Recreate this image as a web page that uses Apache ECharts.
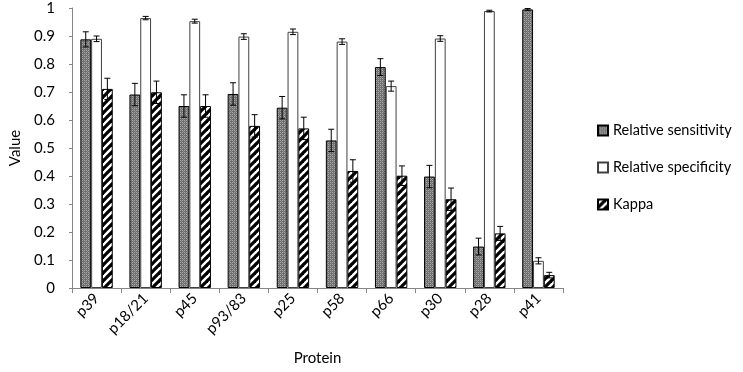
<!DOCTYPE html>
<html><head><meta charset="utf-8">
<script src="https://cdn.jsdelivr.net/npm/echarts@6/dist/echarts.min.js"></script>
<style>html,body{margin:0;padding:0;background:#fff}#c{width:743px;height:372px}</style>
</head><body><div id="c"></div>
<script>
const categories = ['p39','p18/21','p45','p93/83','p25','p58','p66','p30','p28','p41'];
const sensitivity = [0.888,0.691,0.650,0.693,0.644,0.527,0.789,0.398,0.148,0.995];
const sensitivityErr = [0.027,0.040,0.040,0.040,0.040,0.040,0.030,0.040,0.030,0.003];
const specificity = [0.890,0.964,0.953,0.898,0.915,0.880,0.721,0.891,0.989,0.097];
const specificityErr = [0.010,0.006,0.007,0.010,0.010,0.010,0.018,0.010,0.003,0.011];
const kappa = [0.711,0.699,0.650,0.579,0.570,0.418,0.401,0.317,0.195,0.046];
const kappaErr = [0.038,0.040,0.040,0.040,0.040,0.040,0.035,0.040,0.025,0.010];
const seriesNames = ['Relative sensitivity','Relative specificity','Kappa'];

function checkerPattern(){
  const c = document.createElement('canvas'); c.width = 4; c.height = 4;
  const g = c.getContext('2d');
  g.fillStyle = '#6e6e6e'; g.fillRect(0,0,4,4);
  g.fillStyle = '#a8a8a8';
  g.fillRect(0,0,1,1); g.fillRect(2,2,1,1); g.fillRect(2,0,1,1); g.fillRect(0,2,1,1);
  g.fillStyle = '#8c8c8c';
  g.fillRect(1,1,1,1); g.fillRect(3,3,1,1);
  return c;
}
function stripePattern(){
  const s = 8;
  const c = document.createElement('canvas'); c.width = s; c.height = s;
  const g = c.getContext('2d');
  g.fillStyle = '#ffffff'; g.fillRect(0,0,s,s);
  g.strokeStyle = '#000000'; g.lineWidth = 3.2;
  for (let k = -1; k <= 1; k++) {
    g.beginPath(); g.moveTo(k*s - 1, s + 1); g.lineTo(k*s + s + 1, -1); g.stroke();
  }
  return c;
}
const fills = [
  {image: checkerPattern(), repeat: 'repeat'},
  '#ffffff',
  {image: stripePattern(), repeat: 'repeat'}
];
const values = [sensitivity, specificity, kappa];
const errs = [sensitivityErr, specificityErr, kappaErr];
const GAP = 0.34;

const chart = echarts.init(document.getElementById('c'), null, {renderer: 'canvas'});
const font = 'Lato';
const series = [];
values.forEach((vals, si) => {
  series.push({
    name: seriesNames[si], type: 'bar', data: vals,
    barGap: '0%', barCategoryGap: (GAP*100) + '%',
    itemStyle: {color: fills[si], borderColor: si === 1 ? '#404040' : '#000', borderWidth: 1},
    emphasis: {disabled: true}
  });
});
values.forEach((vals, si) => {
  series.push({
    type: 'custom', silent: true, z: 10,
    data: vals.map((v, i) => [i, v, errs[si][i]]),
    renderItem: function(params, api){
      const i = api.value(0), v = api.value(1), e = api.value(2);
      const band = api.size([1, 0])[0];
      const bw = band * (1 - GAP) / 3;
      const center = api.coord([i, v]);
      const x = center[0] + (si - 1) * bw;
      const yTop = api.coord([i, v + e])[1];
      const yBot = api.coord([i, v - e])[1];
      const cap = 3;
      const st = {stroke: '#000', lineWidth: 1};
      return {type: 'group', children: [
        {type: 'line', shape: {x1: x, y1: yTop, x2: x, y2: yBot}, style: st},
        {type: 'line', shape: {x1: x - cap, y1: yTop, x2: x + cap, y2: yTop}, style: st},
        {type: 'line', shape: {x1: x - cap, y1: yBot, x2: x + cap, y2: yBot}, style: st}
      ]};
    }
  });
});

chart.setOption({
  animation: false,
  textStyle: {fontFamily: font},
  grid: {left: 60, right: 180, top: 8, bottom: 84, containLabel: false},
  legend: {
    orient: 'vertical', left: 592, top: 118, itemGap: 22,
    itemWidth: 10, itemHeight: 10,
    data: seriesNames.map(n => ({name: n, icon: 'rect'})),
    textStyle: {fontFamily: font, fontSize: 14.5, color: '#000'},
    selectedMode: false
  },
  xAxis: {
    type: 'category', data: categories,
    name: 'Protein', nameLocation: 'middle', nameGap: 63,
    nameTextStyle: {fontFamily: font, fontSize: 15, color: '#000'},
    axisLine: {lineStyle: {color: '#868686'}},
    axisTick: {show: true, length: 5, lineStyle: {color: '#868686'}},
    axisLabel: {rotate: 45, fontSize: 15, color: '#000', fontFamily: font, margin: 8}
  },
  yAxis: {
    type: 'value', min: 0, max: 1, interval: 0.1,
    name: 'Value', nameLocation: 'middle', nameGap: 49,
    nameTextStyle: {fontFamily: font, fontSize: 15, color: '#000'},
    axisLine: {show: true, lineStyle: {color: '#868686'}},
    axisTick: {show: true, length: 3, lineStyle: {color: '#868686'}},
    splitLine: {show: false},
    axisLabel: {fontSize: 15, color: '#000', fontFamily: font, margin: 17,
      formatter: v => String(Math.round(v*10)/10)}
  },
  series: series
});
</script></body></html>
